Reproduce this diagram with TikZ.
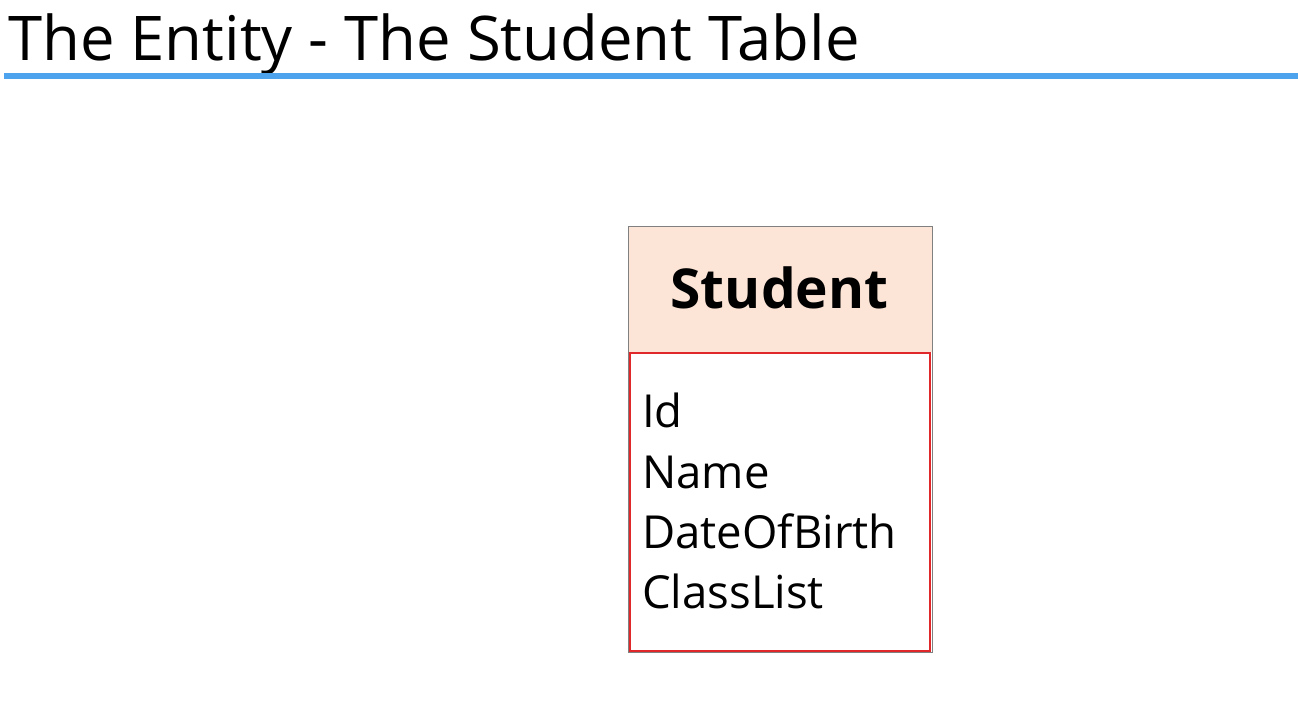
\documentclass[tikz,border=0pt]{standalone}
\usepackage{fontspec}
\setmainfont{Open Sans}
\definecolor{rule}{HTML}{4DA3EE}
\definecolor{head}{HTML}{FCE4D6}
\definecolor{attr}{HTML}{E0282A}
\definecolor{frame}{HTML}{808080}
\begin{document}
\begin{tikzpicture}[x=1pt,y=-1pt,
  attrtext/.style={anchor=base west,inner sep=0pt,font=\fontsize{45.5}{55}\selectfont}]
\useasboundingbox (0,0) rectangle (1298,716);
\node[anchor=base west,inner sep=0pt,font=\fontsize{61.6}{70}\selectfont] (title) at (8,60) {The Entity - The Student Table};
\fill[rule] (4,73) rectangle (1298,79);
% entity box
\fill[head] (628,226) rectangle (932,352);
\draw[frame,line width=1pt] (628,226) rectangle (932,652);
\draw[attr,line width=2pt] (630,353) rectangle (930,651);
\node[anchor=base,inner sep=0pt,font=\bfseries\fontsize{55}{60}\selectfont] (ent) at (779.5,308) {Student};
\node[attrtext] (a1) at (642,427) {Id};
\node[attrtext] (a2) at (642,488) {Name};
\node[attrtext] (a3) at (642,548) {DateOfBirth};
\node[attrtext] (a4) at (642,608) {ClassList};
\end{tikzpicture}
\end{document}
